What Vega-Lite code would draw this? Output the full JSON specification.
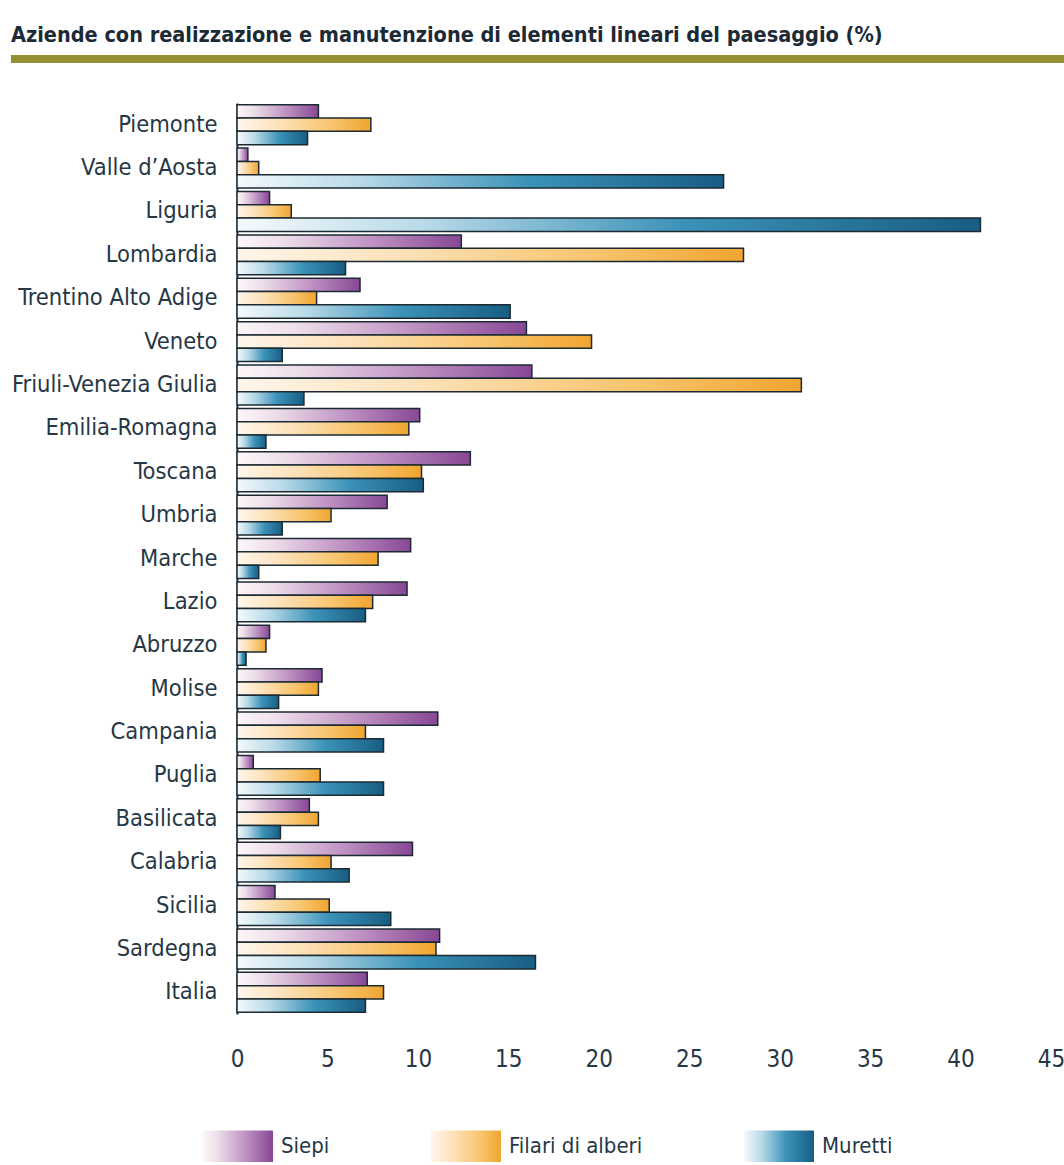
{
  "$schema": "https://vega.github.io/schema/vega-lite/v6.json",
  "padding": {"left": 10, "right": 0, "top": 24, "bottom": 0},
  "config": {"view": {"stroke": null}, "font": "DejaVu Sans Condensed, Roboto, sans-serif"},
  "columns": 1,
  "align": "none",
  "spacing": 40,
  "concat": [
    {
      "title": {"text": "Aziende con realizzazione e manutenzione di elementi lineari del paesaggio (%)", "anchor": "start", "frame": "bounds", "fontSize": 21.5, "fontWeight": "bold", "color": "#1c2a36", "offset": 9, "font": "DejaVu Sans Condensed, Roboto, sans-serif"},
      "width": 828,
      "height": 8,
      "data": {"values": [{"da": -0.273, "a": 1}]},
      "mark": {"type": "rect", "color": "#958f33"},
      "encoding": {
        "x": {"field": "da", "type": "quantitative", "scale": {"domain": [0, 1], "nice": false, "zero": false}, "axis": null},
        "x2": {"field": "a"}
      }
    },
    {
      "width": 814,
      "height": 911,
      "data": {"values": [
        {"regione": "Piemonte", "Siepi": 4.5, "Filari di alberi": 7.4, "Muretti": 3.9},
        {"regione": "Valle d’Aosta", "Siepi": 0.6, "Filari di alberi": 1.2, "Muretti": 26.9},
        {"regione": "Liguria", "Siepi": 1.8, "Filari di alberi": 3.0, "Muretti": 41.1},
        {"regione": "Lombardia", "Siepi": 12.4, "Filari di alberi": 28.0, "Muretti": 6.0},
        {"regione": "Trentino Alto Adige", "Siepi": 6.8, "Filari di alberi": 4.4, "Muretti": 15.1},
        {"regione": "Veneto", "Siepi": 16.0, "Filari di alberi": 19.6, "Muretti": 2.5},
        {"regione": "Friuli-Venezia Giulia", "Siepi": 16.3, "Filari di alberi": 31.2, "Muretti": 3.7},
        {"regione": "Emilia-Romagna", "Siepi": 10.1, "Filari di alberi": 9.5, "Muretti": 1.6},
        {"regione": "Toscana", "Siepi": 12.9, "Filari di alberi": 10.2, "Muretti": 10.3},
        {"regione": "Umbria", "Siepi": 8.3, "Filari di alberi": 5.2, "Muretti": 2.5},
        {"regione": "Marche", "Siepi": 9.6, "Filari di alberi": 7.8, "Muretti": 1.2},
        {"regione": "Lazio", "Siepi": 9.4, "Filari di alberi": 7.5, "Muretti": 7.1},
        {"regione": "Abruzzo", "Siepi": 1.8, "Filari di alberi": 1.6, "Muretti": 0.5},
        {"regione": "Molise", "Siepi": 4.7, "Filari di alberi": 4.5, "Muretti": 2.3},
        {"regione": "Campania", "Siepi": 11.1, "Filari di alberi": 7.1, "Muretti": 8.1},
        {"regione": "Puglia", "Siepi": 0.9, "Filari di alberi": 4.6, "Muretti": 8.1},
        {"regione": "Basilicata", "Siepi": 4.0, "Filari di alberi": 4.5, "Muretti": 2.4},
        {"regione": "Calabria", "Siepi": 9.7, "Filari di alberi": 5.2, "Muretti": 6.2},
        {"regione": "Sicilia", "Siepi": 2.1, "Filari di alberi": 5.1, "Muretti": 8.5},
        {"regione": "Sardegna", "Siepi": 11.2, "Filari di alberi": 11.0, "Muretti": 16.5},
        {"regione": "Italia", "Siepi": 7.2, "Filari di alberi": 8.1, "Muretti": 7.1}
      ]},
      "transform": [{"fold": ["Siepi", "Filari di alberi", "Muretti"], "as": ["serie", "valore"]}],
      "mark": {"type": "bar", "stroke": "#1c2b33", "strokeWidth": 1.5},
      "encoding": {
        "y": {
          "field": "regione", "type": "nominal",
          "sort": ["Piemonte", "Valle d’Aosta", "Liguria", "Lombardia", "Trentino Alto Adige", "Veneto", "Friuli-Venezia Giulia", "Emilia-Romagna", "Toscana", "Umbria", "Marche", "Lazio", "Abruzzo", "Molise", "Campania", "Puglia", "Basilicata", "Calabria", "Sicilia", "Sardegna", "Italia"],
          "scale": {"paddingInner": 0.08, "paddingOuter": 0.04},
          "axis": {"title": null, "ticks": false, "domain": true, "domainColor": "#1c2b33", "domainWidth": 2, "labelFontSize": 23.5, "labelColor": "#263746", "labelPadding": 20, "labelLimit": 300}
        },
        "yOffset": {"field": "serie", "type": "nominal", "sort": ["Siepi", "Filari di alberi", "Muretti"], "scale": {"paddingInner": 0, "paddingOuter": 0}},
        "x": {
          "field": "valore", "type": "quantitative",
          "scale": {"domain": [0, 45], "nice": false},
          "axis": {"title": null, "values": [0, 5, 10, 15, 20, 25, 30, 35, 40, 45], "domain": false, "ticks": false, "grid": false, "labelFontSize": 24, "labelColor": "#263746", "labelPadding": 33, "labelFlush": false}
        },
        "fill": {
          "field": "serie", "type": "nominal",
          "scale": {
            "domain": ["Siepi", "Filari di alberi", "Muretti"],
            "range": [
              {"expr": "{gradient:'linear',x1:0,y1:0,x2:1,y2:0,stops:[{offset:0,color:'#fdf7f9'},{offset:0.2,color:'#eedfea'},{offset:0.6,color:'#bf93c3'},{offset:1,color:'#874795'}]}"},
              {"expr": "{gradient:'linear',x1:0,y1:0,x2:1,y2:0,stops:[{offset:0,color:'#fff6ec'},{offset:0.3,color:'#fde3bd'},{offset:0.7,color:'#f8c56f'},{offset:1,color:'#f0a530'}]}"},
              {"expr": "{gradient:'linear',x1:0,y1:0,x2:1,y2:0,stops:[{offset:0,color:'#f5fafc'},{offset:0.25,color:'#b9dae8'},{offset:0.6,color:'#3b92b8'},{offset:1,color:'#185d83'}]}"}
            ]
          },
          "legend": {"orient": "none", "legendX": -34, "legendY": 1056, "direction": "horizontal", "title": null, "padding": 0, "symbolType": "M-1,-0.45H1V0.45H-1Z", "symbolSize": 4900, "symbolStrokeWidth": 0, "symbolStrokeColor": "transparent", "labelFontSize": 22, "labelColor": "#263746", "labelOffset": 8, "columnPadding": 101}
        }
      }
    }
  ]
}
